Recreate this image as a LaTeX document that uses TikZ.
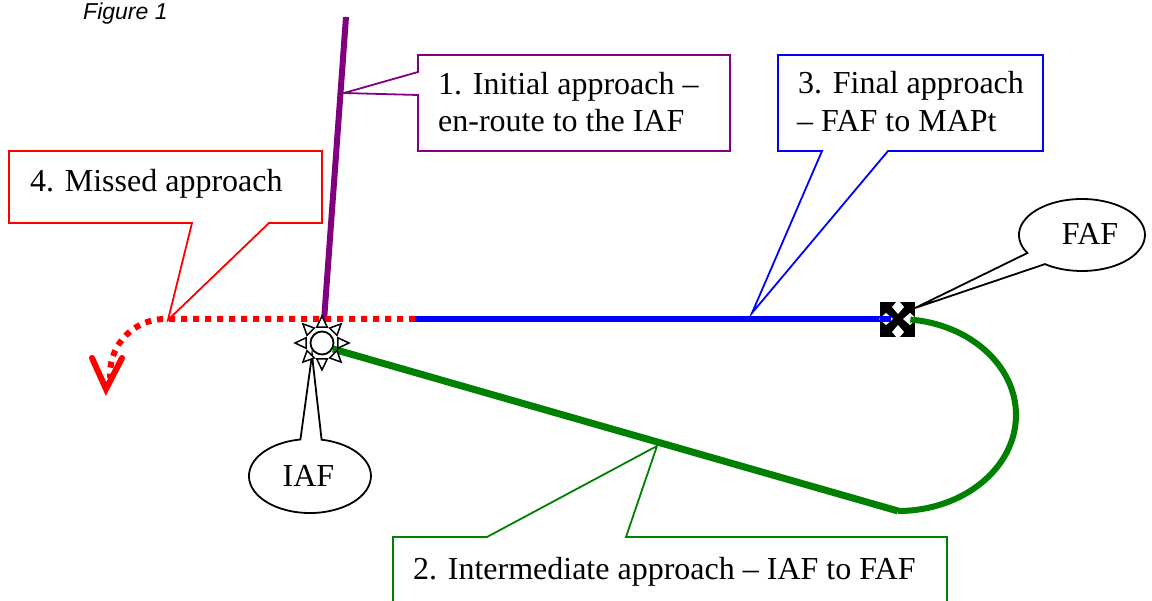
\documentclass[tikz,border=0pt]{standalone}
\usepackage{fontspec}
\setmainfont{Liberation Serif}
\newfontfamily\capfont{Liberation Sans}
\definecolor{cpurple}{RGB}{128,0,128}
\definecolor{cgreen}{RGB}{0,128,0}
\begin{document}
\begin{tikzpicture}[x=1pt,y=-1pt,
 lbl/.style={anchor=base west, inner sep=0pt, font=\fontsize{32}{37}\selectfont},
 clbl/.style={anchor=base, inner sep=0pt, font=\fontsize{32}{37}\selectfont},
 callout/.style={fill=white, line width=1.8pt, line join=miter},
 symline/.style={line width=1.5pt, fill=white, draw=black}]
\useasboundingbox (0,0) rectangle (1152,601);
\clip (0,0) rectangle (1152,601);
% key points
\coordinate (purpleTop) at (346,17);
\coordinate (purpleEnd) at (324,321);
\coordinate (split) at (415,319);
\coordinate (fafL) at (891,319);
\coordinate (arcStart) at (165,319);
\coordinate (iafOut) at (333,349);
\coordinate (turn) at (898,511);
% tracks
\draw[line width=6pt, cpurple] (purpleTop) -- (purpleEnd);
\draw[line width=5.5pt, blue] (split) -- (fafL);
\draw[line width=6pt, red, dash pattern=on 6pt off 6pt] (split) -- (arcStart) arc[start angle=270, end angle=180, radius=55] -- (110,378);
\draw[line width=6pt, red, line cap=round, line join=miter] (92,358) -- (106,389) -- (122,358);
\draw[line width=7pt, cgreen] (iafOut) -- (turn);
% FAF symbol
\fill (880,302) rectangle (915,337);
\fill[white] (898,300) -- (904,307) -- (898,314) -- (892,307) -- cycle;
\fill[white] (898,325) -- (904,332) -- (898,339) -- (892,332) -- cycle;
\fill[white] (879,319) -- (886,313) -- (893,319) -- (886,325) -- cycle;
\fill[white] (903,319) -- (910,313) -- (917,319) -- (910,325) -- cycle;
\draw[line width=5.5pt, blue] (880,319) -- (fafL);
\draw[line width=6pt, cgreen] (turn) arc[start angle=90, end angle=-84, x radius=118, y radius=96];
% callouts
\draw[callout, draw=cpurple] (418,55) -- (730,55) -- (730,151) -- (418,151) -- (418,95) -- (344,93) -- (418,72) -- cycle;
\draw[callout, draw=blue] (778,55) -- (1043,55) -- (1043,151) -- (888,151) -- (752,313) -- (822,151) -- (778,151) -- cycle;
\draw[callout, draw=red] (9,151) -- (322,151) -- (322,223) -- (269,223) -- (168,320) -- (192,223) -- (9,223) -- cycle;
\draw[callout, draw=cgreen] (393,620) -- (393,537) -- (487,537) -- (657,446) -- (626,537) -- (947,537) -- (947,620);
\draw[callout, draw=black] (1027.4,253) arc[start angle=150, end angle=486, x radius=63, y radius=36] -- (915,308) -- cycle;
\draw[callout, draw=black] (321.6,439.7) arc[start angle=281, end angle=621, x radius=61, y radius=37] -- (312,355) -- cycle;
% IAF symbol
\begin{scope}[shift={(322,343)}]
 \foreach \a in {0,45,...,315}
   \draw[symline] (\a:27) -- ({\a+18}:16.8) -- ({\a-18}:16.8) -- cycle;
 \draw[symline, line width=1.8pt] (0,0) circle[radius=11.5];
\end{scope}
% texts
\node[lbl] (t1a) at (438,95) {1. Initial approach –};
\node[lbl] (t1b) at (438,132) {en-route to the IAF};
\node[lbl] (t3a) at (798,94) {3. Final approach};
\node[lbl] (t3b) at (797,132) {– FAF to MAPt};
\node[lbl] (t4) at (30,192) {4. Missed approach};
\node[lbl] (t2) at (413,579) {2. Intermediate approach – IAF to FAF};
\node[clbl] (tfaf) at (1090,245) {FAF};
\node[clbl] (tiaf) at (308.5,487) {IAF};
\node[anchor=base west, inner sep=0pt, font=\capfont\itshape\fontsize{23}{26}\selectfont] (fig) at (83,20) {Figure 1};
\end{tikzpicture}
\end{document}
